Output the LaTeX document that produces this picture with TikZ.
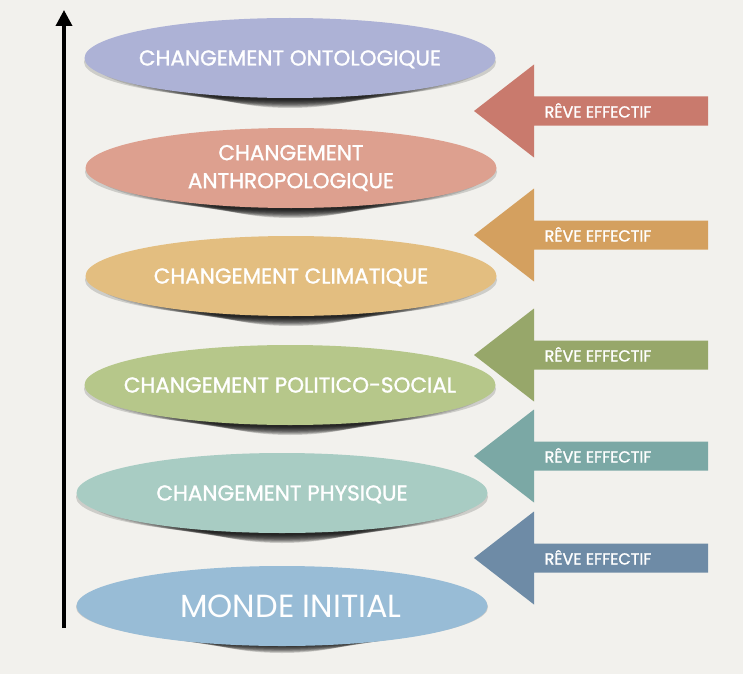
\documentclass[tikz,border=0pt]{standalone}
\usepackage{fontspec}
\setmainfont{Poppins}
\newfontfamily\titre[FakeBold=1.3]{Poppins}
\usetikzlibrary{shapes.geometric,arrows.meta}
\definecolor{fond}{HTML}{F2F1ED}
\definecolor{onto}{HTML}{ADB2D6}
\definecolor{anthro}{HTML}{DDA08F}
\definecolor{clim}{HTML}{E3BE80}
\definecolor{polit}{HTML}{B6C78A}
\definecolor{phys}{HTML}{A8CCC3}
\definecolor{monde}{HTML}{98BCD6}
\definecolor{rougeA}{HTML}{C97A6D}
\definecolor{orangeB}{HTML}{D4A05F}
\definecolor{vertC}{HTML}{97A76A}
\definecolor{bleuvertD}{HTML}{7BA8A5}
\definecolor{bleuE}{HTML}{6E8BA6}
\tikzset{
  bulle/.style={ellipse, minimum width=411pt, minimum height=80pt, inner xsep=-100pt, inner ysep=0pt,
    fill=#1, text=white, align=center, font=\titre\fontsize{21.5}{28}\selectfont},
  ligne/.style={text height=15pt, text depth=0pt},
  ombre/.style={fill=black, opacity=.15},
  reve/.style={text=white, font=\titre\fontsize{16}{16}\selectfont, text height=11pt, text depth=0pt},
  axe/.style={line width=3.5pt, -{Triangle[width=16pt,length=16pt]}}
}
\begin{document}
\begin{tikzpicture}[x=1pt,y=-1pt]
\fill[fond] (0,0) rectangle (743,674);
\coordinate (bas) at (64,628);
\coordinate (haut) at (64,10);
\draw[axe] (bas) -- (haut);
% ombres sous les bulles
\foreach \x/\y in {290/58, 291/168, 291/276, 290/385, 282/493, 282/603}
  \foreach \k in {0,...,10}
    \fill[ombre] (\x,\y+4+0.8*\k) ellipse [x radius=206-10*\k, y radius=38];
\node[bulle=onto, ligne] (onto) at (290,58) {CHANGEMENT ONTOLOGIQUE};
\node[bulle=anthro] (anthro) at (291,168) {CHANGEMENT\\ANTHROPOLOGIQUE};
\node[bulle=clim, ligne] (clim) at (291,276) {CHANGEMENT CLIMATIQUE};
\node[bulle=polit, ligne] (polit) at (290,385) {CHANGEMENT POLITICO-SOCIAL};
\node[bulle=phys, ligne] (phys) at (282,493) {CHANGEMENT PHYSIQUE};
\node[bulle=monde, ligne, text height=22pt, font=\fontsize{32}{34}\selectfont] (monde) at (282,606) {\hspace*{18pt}MONDE INITIAL};
% fleches du reve
\foreach \y/\c [count=\i] in {111/rougeA, 235/orangeB, 355/vertC, 456/bleuvertD, 558/bleuE} {
  \fill[\c] (708,\y-14.5) -- (534,\y-14.5) -- (534,\y-46.5) -- (474,\y)
    -- (534,\y+46.5) -- (534,\y+14.5) -- (708,\y+14.5) -- cycle;
  \node[reve] (reve\i) at (598,\y+1) {RÊVE EFFECTIF};
}
\end{tikzpicture}
\end{document}
